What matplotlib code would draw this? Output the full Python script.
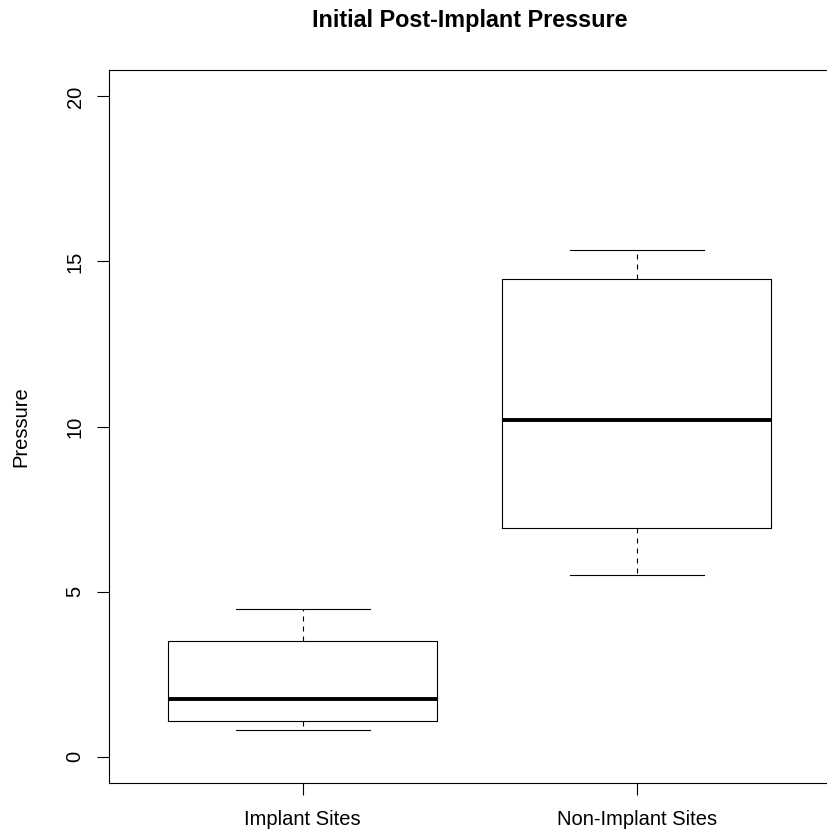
import matplotlib
matplotlib.use("Agg")
import matplotlib.pyplot as plt

# valores (R boxplot)
groups = ["Implant Sites", "Non-Implant Sites"]
whisker_low = [0.81, 5.51]
q1 = [1.08, 6.94]
median = [1.75, 10.20]
q3 = [3.50, 14.48]
whisker_high = [4.48, 15.35]
y_ticks = [0, 5, 10, 15, 20]

plt.rcParams["font.family"] = ["Liberation Sans", "DejaVu Sans"]

stats = []
for i in range(len(groups)):
    stats.append({"label": groups[i], "whislo": whisker_low[i], "q1": q1[i],
                  "med": median[i], "q3": q3[i], "whishi": whisker_high[i],
                  "fliers": []})

fig = plt.figure(figsize=(8.27, 8.38), dpi=100)
W, H = 827, 838
left, right, top, bottom = 109, 830.5, 70, 783
ax = fig.add_axes([left / W, (H - bottom) / H, (right - left) / W, (bottom - top) / H])

lw = 0.8
ax.bxp(stats, positions=[1, 2], widths=0.805, capwidths=0.4, showfliers=False,
       boxprops=dict(color="black", linewidth=lw),
       whiskerprops=dict(color="black", linewidth=lw, linestyle=(0, (4.5, 4.5))),
       capprops=dict(color="black", linewidth=lw),
       medianprops=dict(color="black", linewidth=2.8, solid_capstyle="butt"))

ax.set_xlim(0.42, 2.58)
ax.set_ylim(-0.8, 20.8)
ax.set_yticks(y_ticks)
ax.set_yticklabels([str(v) for v in y_ticks], rotation=90, va="center")
ax.set_xticks([1, 2])
ax.set_xticklabels(groups)
ax.tick_params(axis="both", length=8.6, width=lw, labelsize=14.5, colors="black")
ax.tick_params(axis="y", pad=9)
ax.tick_params(axis="x", pad=11)
for s in ax.spines.values():
    s.set_linewidth(lw)

# etiqueta del eje y, centrada sobre el area del grafico
ax.set_ylabel("Pressure", fontsize=14.5)
ax.yaxis.set_label_coords(30 / W, (H - (top + bottom) / 2) / H, transform=fig.transFigure)
fig.text((left + right) / 2 / W, 1 - 21 / H, "Initial Post-Implant Pressure",
         ha="center", va="center", fontsize=16.8, fontweight="bold")

fig.savefig("out.png", dpi=100)
